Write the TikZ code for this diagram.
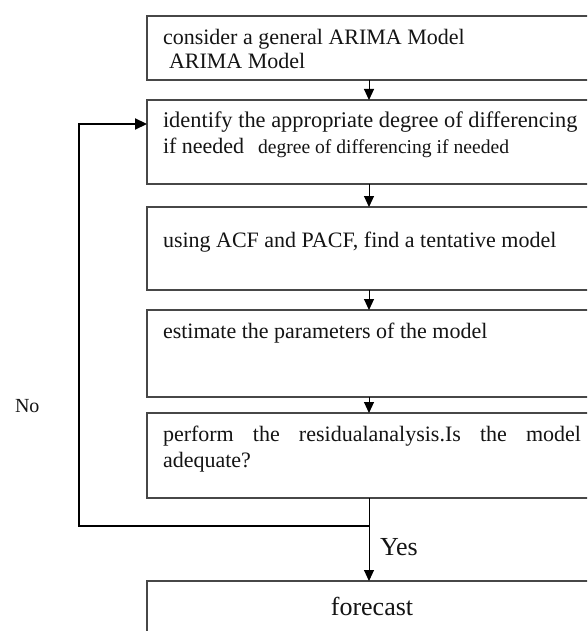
\documentclass[tikz,border=0pt]{standalone}
\usepackage{fontspec}
\setmainfont{Liberation Serif}
\usetikzlibrary{arrows.meta}
\begin{document}
\begin{tikzpicture}[x=1pt,y=-1pt,
  box/.style={draw=black!72, line width=1.7pt, fill=white, anchor=north west,
    minimum width=520pt, inner sep=0pt, outer sep=0pt},
  txt/.style={anchor=base west, inner sep=0pt, outer sep=0pt, text=black!92,
    font=\fontsize{22}{26}\selectfont},
  widetxt/.style={txt, font=\fontsize{22.4}{26}\selectfont},
  smalltxt/.style={txt, font=\fontsize{19.6}{24}\selectfont},
  bigtxt/.style={anchor=base, inner sep=0pt, outer sep=0pt, text=black!92,
    font=\fontsize{26}{30}\selectfont},
  notxt/.style={anchor=base west, inner sep=0pt, outer sep=0pt, text=black!92,
    font=\fontsize{20}{24}\selectfont},
  arr/.style={-{Triangle[length=11pt,width=10pt]}, line width=1pt, draw=black},
  fbarr/.style={-{Triangle[length=12pt,width=11pt]}, line width=2.2pt, draw=black}
]
\useasboundingbox[fill=white] (0,0) rectangle (587,631);
\clip (0,0) rectangle (587,631);

% boxes
\node[box, minimum height=64pt] (b1) at (147,16) {};
\node[box, minimum height=84pt] (b2) at (147,100) {};
\node[box, minimum height=83pt] (b3) at (147,207) {};
\node[box, minimum height=87pt] (b4) at (147,310) {};
\node[box, minimum height=85pt] (b5) at (147,413) {};
\node[box, minimum height=80pt] (b6) at (147,581) {};

% texts
\node[txt] (t1a) at (163,45) {consider a general ARIMA Model};
\node[txt] (t1b) at (169,69) {ARIMA Model};
\node[widetxt] (t2a) at (163,128) {identify the appropriate degree of differencing};
\node[txt] (t2b) at (163,154) {if needed};
\node[smalltxt] (t2c) at (258,154) {degree of differencing if needed};
\node[txt] (t3) at (163,247) {using ACF and PACF, find a tentative model};
\node[txt] (t4) at (163,338) {estimate the parameters of the model};
\node[txt] (t5a) at (163,441) {\makebox[418pt][s]{perform the residualanalysis.Is the model}};
\node[txt] (t5b) at (163,467) {adequate?};
\node[bigtxt] (t6) at (372,615) {forecast};
\node[bigtxt, anchor=base west] (yes) at (380,555) {Yes};
\node[notxt] (no) at (15,412) {No};

% connector helpers
\coordinate (ax) at (369,0);
\coordinate (j) at (369,526);
\coordinate (fbL) at (79,526);
\coordinate (fbT) at (79,124);

% arrows between boxes
\draw[arr] (b1.south -| ax) -- (b2.north -| ax);
\draw[arr] (b2.south -| ax) -- (b3.north -| ax);
\draw[arr] (b3.south -| ax) -- (b4.north -| ax);
\draw[arr] (b4.south -| ax) -- (b5.north -| ax);
\draw[arr] (b5.south -| ax) -- (b6.north -| ax);

% feedback loop
\draw[fbarr] (j) -- (fbL) -- (fbT) -- (b2.north west |- fbT);
\end{tikzpicture}
\end{document}
